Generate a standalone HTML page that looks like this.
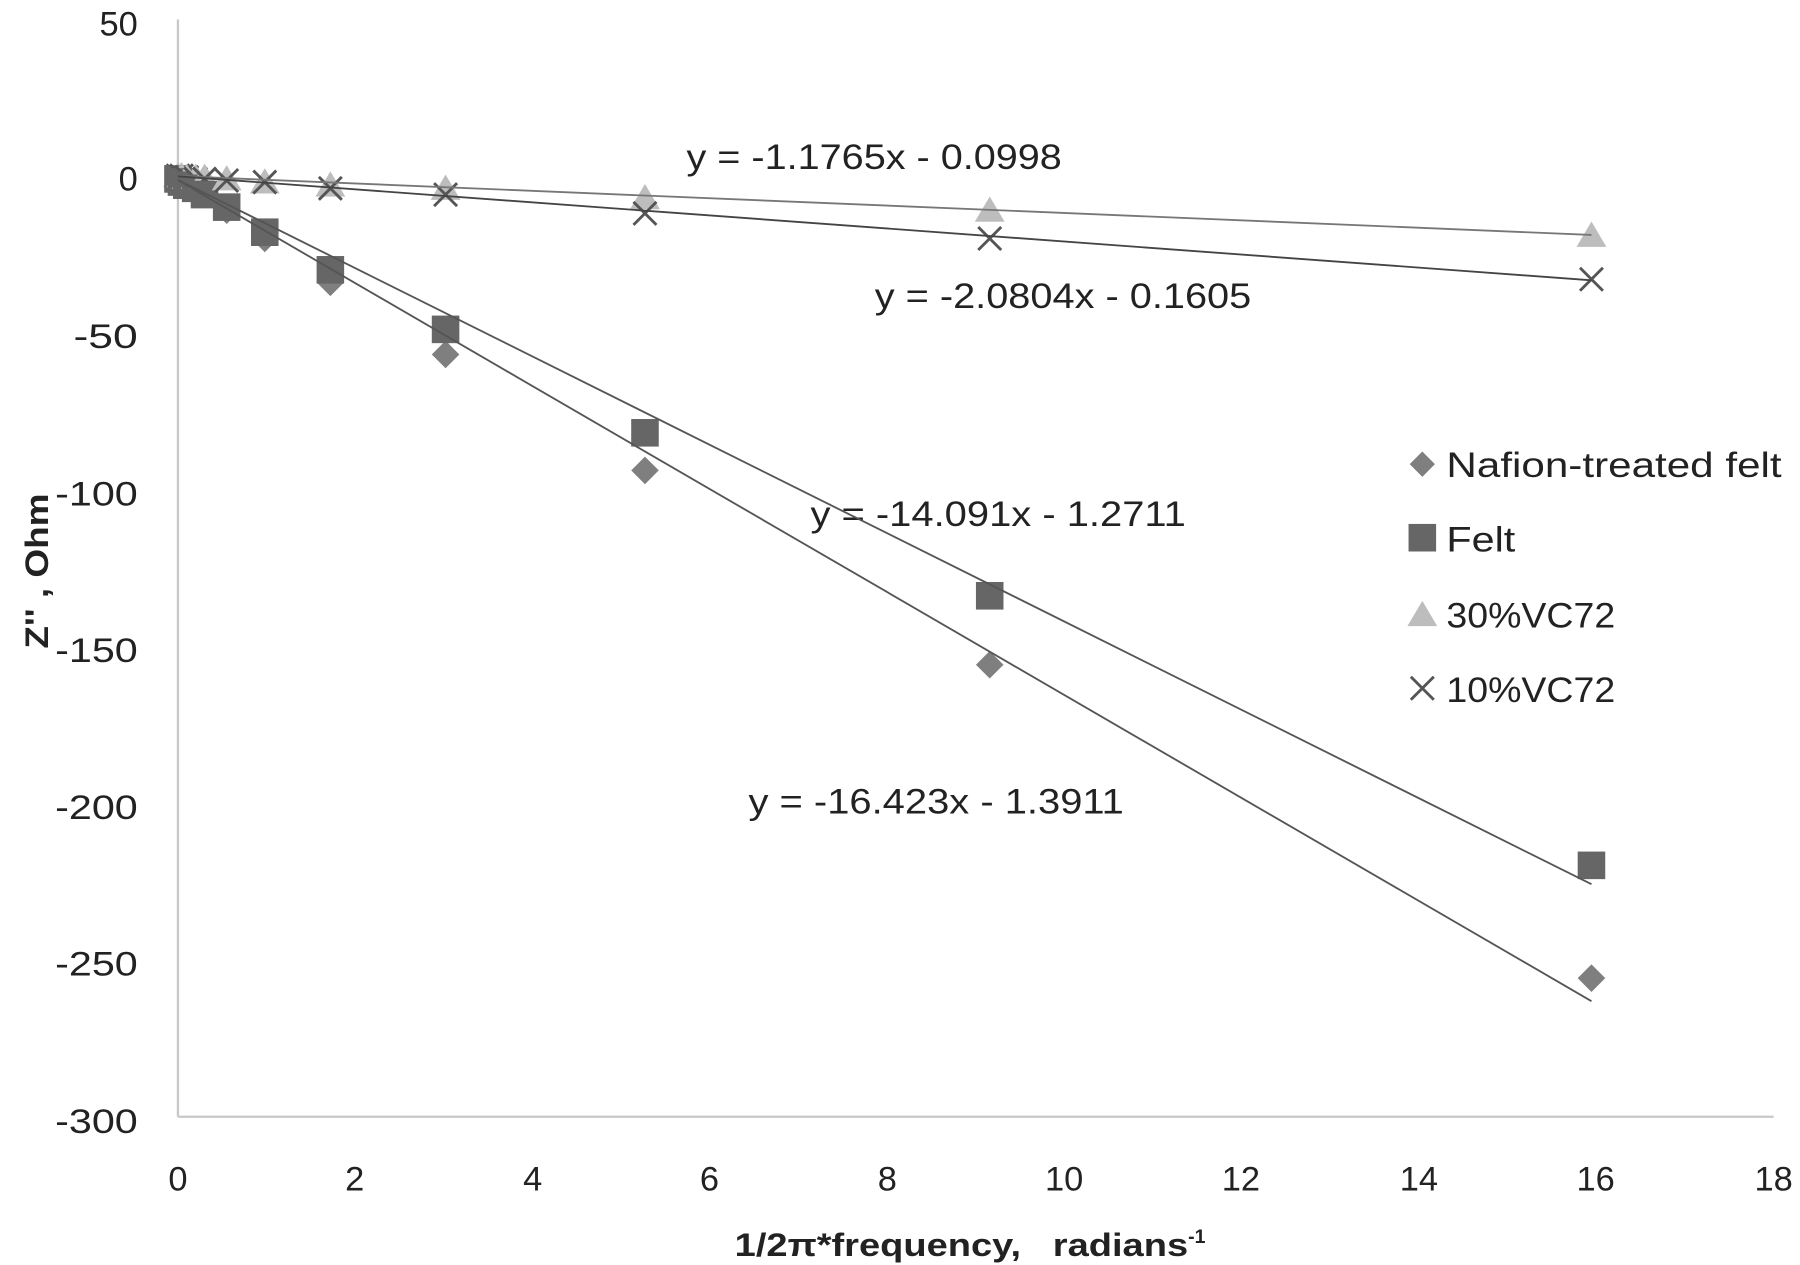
<!DOCTYPE html>
<html><head><meta charset="utf-8"><style>
html,body{margin:0;padding:0;background:#fff;}
svg{display:block;}
text{font-family:"Liberation Sans",sans-serif;fill:#222;}
</style></head><body>
<svg id="s" width="1800" height="1265" viewBox="0 0 1568 1101" preserveAspectRatio="none" xmlns="http://www.w3.org/2000/svg">
<rect width="1568" height="1101" fill="#fff"/>
<line x1="155" y1="17" x2="155" y2="972" stroke="#c8c8c8" stroke-width="2"/>
<line x1="155" y1="972" x2="1545" y2="972" stroke="#c8c8c8" stroke-width="2"/>
<g font-size="30" text-anchor="end">
<text x="120" y="31">50</text>
<text x="120" y="166">0</text>
<text x="120" y="303" textLength="56" lengthAdjust="spacingAndGlyphs">-50</text>
<text x="120" y="440" textLength="72" lengthAdjust="spacingAndGlyphs">-100</text>
<text x="120" y="576" textLength="72" lengthAdjust="spacingAndGlyphs">-150</text>
<text x="120" y="713" textLength="72" lengthAdjust="spacingAndGlyphs">-200</text>
<text x="120" y="849" textLength="72" lengthAdjust="spacingAndGlyphs">-250</text>
<text x="120" y="986" textLength="72" lengthAdjust="spacingAndGlyphs">-300</text>
</g>
<g font-size="30" text-anchor="middle">
<text x="155" y="1036">0</text>
<text x="309" y="1036">2</text>
<text x="464" y="1036">4</text>
<text x="618" y="1036">6</text>
<text x="773" y="1036">8</text>
<text x="927" y="1036">10</text>
<text x="1081" y="1036">12</text>
<text x="1236" y="1036">14</text>
<text x="1390" y="1036">16</text>
<text x="1545" y="1036">18</text>
</g>
<text x="640" y="1093" font-size="28" font-weight="bold" xml:space="preserve"><tspan textLength="395" lengthAdjust="spacingAndGlyphs">1/2π*frequency,   radians</tspan><tspan font-size="17" dy="-11">-1</tspan></text>
<text transform="translate(42,497) rotate(-90)" font-size="28" font-weight="bold" text-anchor="middle" textLength="135" lengthAdjust="spacingAndGlyphs">Z'' , Ohm</text>
<g font-size="31">
<text x="598" y="147" textLength="327" lengthAdjust="spacingAndGlyphs">y = -1.1765x - 0.0998</text>
<text x="762" y="268" textLength="328" lengthAdjust="spacingAndGlyphs">y = -2.0804x - 0.1605</text>
<text x="706" y="458" textLength="327" lengthAdjust="spacingAndGlyphs">y = -14.091x - 1.2711</text>
<text x="652" y="708" textLength="327" lengthAdjust="spacingAndGlyphs">y = -16.423x - 1.3911</text>
</g>
<g id="m"></g>
<g font-size="31">
<polygon points="1239,393 1250,404 1239,415 1228,404" fill="#7f7f7f"/>
<text x="1260" y="415" textLength="292" lengthAdjust="spacingAndGlyphs">Nafion-treated felt</text>
<rect x="1227" y="456" width="24" height="24" fill="#666"/>
<text x="1260" y="480" textLength="60" lengthAdjust="spacingAndGlyphs">Felt</text>
<polygon points="1239,523 1252,545 1226,545" fill="#bdbdbd"/>
<text x="1260" y="546" textLength="147" lengthAdjust="spacingAndGlyphs">30%VC72</text>
<path d="M1229,589 L1249,609 M1249,589 L1229,609" stroke="#555" stroke-width="2.5"/>
<text x="1260" y="611" textLength="147" lengthAdjust="spacingAndGlyphs">10%VC72</text>
</g>
</svg>
<script>
var X=function(x){return 155+77.2*x},Y=function(y){return 153-2.728*y};
var xs=[0,0.04,0.1,0.2,0.3,0.55,0.98,1.72,3.02,5.27,9.16,15.95];
var naf=[-1,-2,-3,-4,-6,-11,-20,-34,-57,-94,-156,-256];
var felt=[-1,-2,-3,-4,-6,-10,-18,-30,-49,-82,-134,-220];
var v30=[0,0,-0.5,-0.5,-0.5,-1,-2,-3,-4,-7,-11,-19];
var v10=[0,0,-0.5,-1,-1,-1.5,-2,-4,-6,-12,-20,-33];
var h='';
function ln(a,b,c){h+='<line x1="'+X(0)+'" y1="'+Y(b)+'" x2="'+X(15.95)+'" y2="'+Y(a*15.95+b)+'" stroke="'+c+'" stroke-width="1.6"/>';}
for(var i=0;i<xs.length;i++){var x=X(xs[i]),y;
y=Y(v30[i]);h+='<polygon points="'+x+','+(y-12)+' '+(x+13)+','+(y+10)+' '+(x-13)+','+(y+10)+'" fill="#bdbdbd"/>';
y=Y(v10[i]);h+='<path d="M'+(x-10)+','+(y-10)+' L'+(x+10)+','+(y+10)+' M'+(x+10)+','+(y-10)+' L'+(x-10)+','+(y+10)+'" stroke="#555" stroke-width="2.5"/>';
y=Y(naf[i]);h+='<polygon points="'+x+','+(y-12)+' '+(x+12)+','+y+' '+x+','+(y+12)+' '+(x-12)+','+y+'" fill="#7f7f7f"/>';
y=Y(felt[i]);h+='<rect x="'+(x-12)+'" y="'+(y-12)+'" width="24" height="24" fill="#666"/>';}
ln(-1.1765,-0.0998,'#777');ln(-2.0804,-0.1605,'#444');ln(-14.091,-1.2711,'#555');ln(-16.423,-1.3911,'#555');
document.getElementById('m').innerHTML=h;
</script>
</body></html>
